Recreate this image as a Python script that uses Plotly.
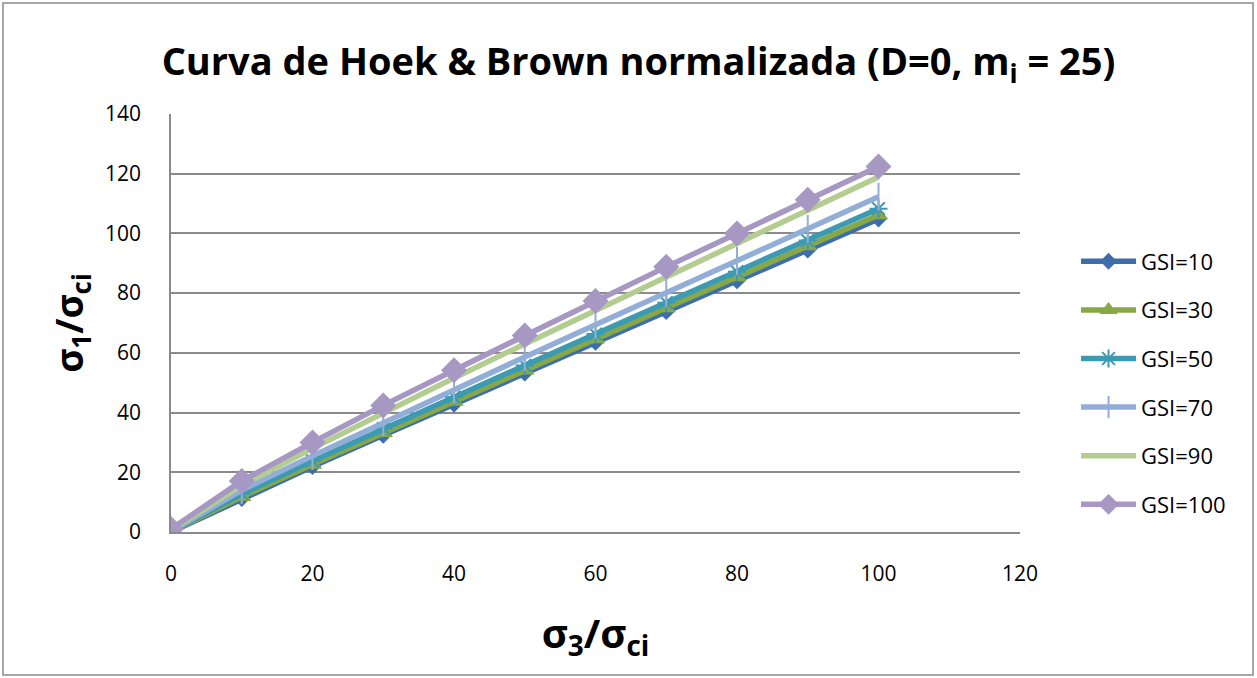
import plotly.graph_objects as go

x_vals = [0, 10, 20, 30, 40, 50, 60, 70, 80, 90, 100]
gsi_10 = [0.0, 11.2, 21.9, 32.4, 42.8, 53.2, 63.5, 73.8, 84.1, 94.4, 104.8]
gsi_30 = [0.0, 11.8, 22.6, 33.2, 43.7, 54.2, 64.6, 75.0, 85.4, 95.8, 106.2]
gsi_50 = [0.1, 12.8, 23.8, 34.6, 45.2, 55.8, 66.3, 76.8, 87.2, 97.6, 108.3]
gsi_70 = [0.2, 14.0, 25.5, 36.7, 47.7, 58.6, 69.4, 80.1, 90.8, 101.5, 112.3]
gsi_90 = [0.6, 15.6, 28.0, 40.0, 51.6, 63.0, 74.3, 85.5, 96.7, 107.8, 118.9]
gsi_100 = [1.0, 17.1, 30.0, 42.4, 54.2, 65.8, 77.4, 88.8, 100.0, 111.3, 122.4]
series_names = ["GSI=10", "GSI=30", "GSI=50", "GSI=70", "GSI=90", "GSI=100"]

series = [gsi_10, gsi_30, gsi_50, gsi_70, gsi_90, gsi_100]
colors = ["#3E6DAC", "#87A845", "#3C9BB3", "#92AED6", "#B3CD90", "#A697C3"]
markers = [
    dict(symbol="diamond", size=13),
    dict(symbol="triangle-up", size=17),
    dict(symbol="asterisk-open", size=15, line=dict(width=2)),
    dict(symbol="line-ns-open", size=20, line=dict(width=2)),
    None,
    dict(symbol="diamond", size=20),
]

fig = go.Figure()
for name, ys, col, mk in zip(series_names, series, colors, markers):
    if mk is None:
        fig.add_trace(go.Scatter(x=x_vals, y=ys, name=name, mode="lines",
                                 line=dict(color=col, width=5.5), legendgroup=name))
    else:
        m = dict(mk)
        m["color"] = col
        if "line" in m:
            m["line"] = dict(m["line"], color=col)
        fig.add_trace(go.Scatter(x=x_vals, y=ys, name=name, mode="lines+markers",
                                 line=dict(color=col, width=5.5), marker=m,
                                 legendgroup=name))

grid_col = "#8A8A8A"
fig.update_layout(
    width=1257, height=678,
    margin=dict(l=171, r=237, t=114, b=146),
    paper_bgcolor="white", plot_bgcolor="white",
    font=dict(family="Open Sans, Liberation Sans, sans-serif", color="black"),
    title=dict(text="<b>Curva de Hoek &amp; Brown normalizada (D=0, m<sub>i</sub> = 25)</b>",
               x=0.508, xanchor="center", y=1 - 62 / 678, yanchor="middle",
               font=dict(size=38, color="black")),
    xaxis=dict(range=[0, 120], dtick=20, showgrid=False, showline=True,
               linecolor=grid_col, linewidth=1.5, ticks="", ticklabelstandoff=22,
               tickfont=dict(size=21), zeroline=False,
               title=dict(text="<b>σ<sub>3</sub>/σ<sub>ci</sub></b>",
                          font=dict(size=40), standoff=34)),
    yaxis=dict(range=[0, 140], dtick=20, showgrid=True, gridcolor=grid_col,
               gridwidth=1.5, showline=True, linecolor=grid_col, linewidth=1.5,
               ticks="", ticklabelstandoff=24,
               tickfont=dict(size=21), zeroline=False,
               title=dict(text="<b>σ<sub>1</sub>/σ<sub>ci</sub></b>",
                          font=dict(size=37), standoff=10)),
    legend=dict(x=1.066, xanchor="left", y=(532 - 383) / 418, yanchor="middle",
                font=dict(size=22), tracegroupgap=17, itemwidth=55,
                bgcolor="rgba(0,0,0,0)"),
    shapes=[dict(type="rect", xref="paper", yref="paper",
                 x0=(3 - 171) / 849, x1=(1253 - 171) / 849,
                 y0=(532 - 675) / 418, y1=(532 - 3) / 418,
                 line=dict(color=grid_col, width=1.5), layer="below")],
)

fig.write_html("out.html")
